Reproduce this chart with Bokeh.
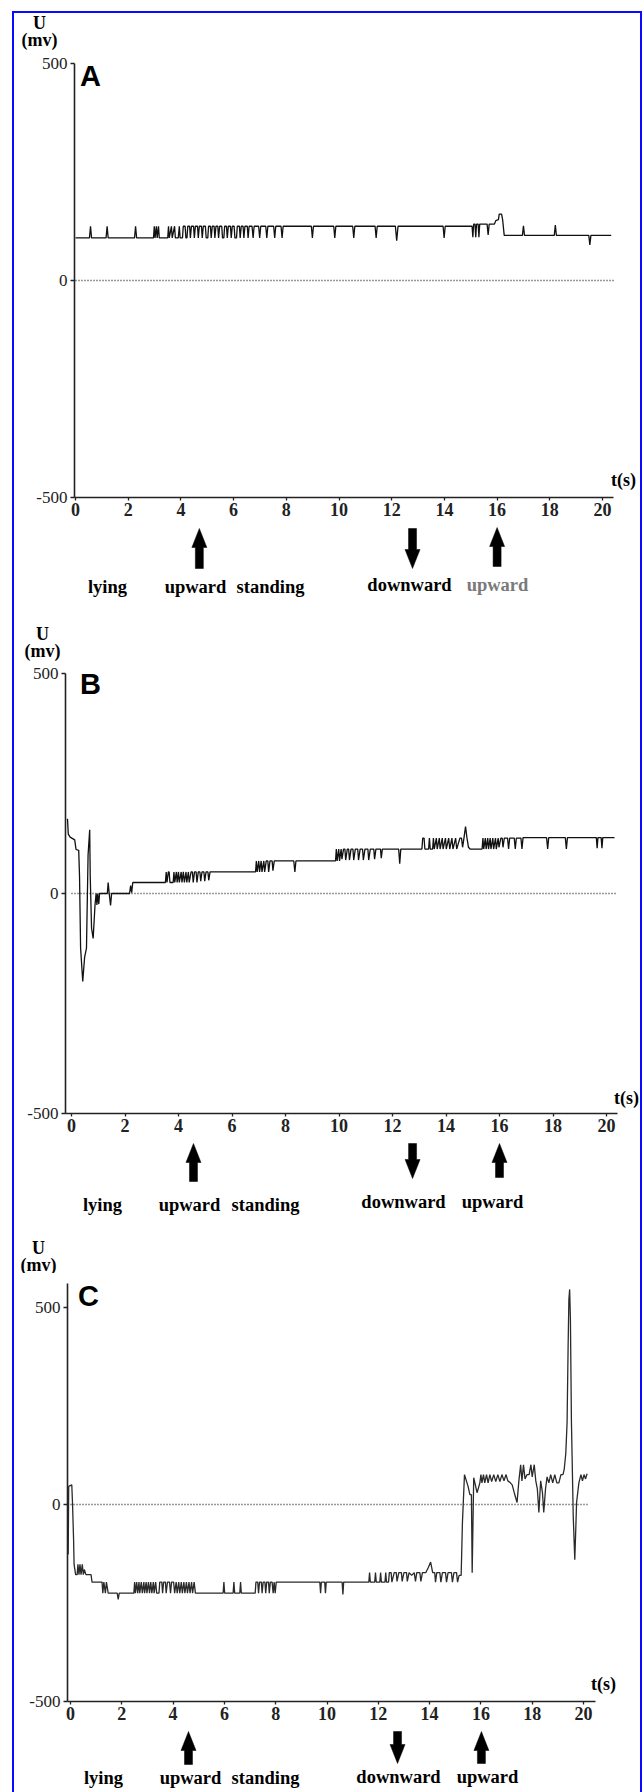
from bokeh.plotting import figure
from bokeh.layouts import column
from bokeh.models import Range1d, FixedTicker, Label
from bokeh.embed import file_html
from bokeh.resources import INLINE

# ---------------- data ----------------
x_ticks = [0, 2, 4, 6, 8, 10, 12, 14, 16, 18, 20]
y_ticks = [-500, 0, 500]
y_tick_text = {-500: "-500", 0: "0", 500: "500"}

A_t = [0.00, 0.53, 0.57, 0.61, 1.16, 1.20, 1.24, 2.24, 2.28, 2.32,
       2.96, 2.99, 3.02, 3.07, 3.10, 3.15, 3.18,
       3.50, 3.53, 3.56, 3.64, 3.67, 3.76, 3.79, 3.90,
       3.94, 3.97, 4.06, 4.09, 4.16, 4.19, 4.23, 4.26, 4.33, 4.36, 4.40, 4.48, 4.51,
       4.55, 4.63, 4.66, 4.70, 4.78, 4.81, 4.85, 4.93, 4.96, 5.02, 5.05, 5.12, 5.15,
       5.19, 5.26, 5.29, 5.33, 5.40, 5.43, 5.47, 5.55, 5.58, 5.63, 5.66, 5.73, 5.76,
       5.80, 5.88, 5.91, 5.95, 6.02, 6.05, 6.11, 6.14, 6.22, 6.25, 6.29, 6.36, 6.39,
       6.43, 6.52, 6.55, 6.59, 6.70, 6.74, 6.78, 6.95, 6.99, 7.03, 7.22, 7.26, 7.30,
       7.52, 7.56, 7.60, 7.80, 7.84, 7.88,
       8.95, 8.99, 9.03, 9.80, 9.84, 9.88, 10.52, 10.56, 10.60, 11.37, 11.41, 11.45,
       12.14, 12.19, 12.24, 13.95, 13.99, 14.03,
       15.05, 15.08, 15.11, 15.16, 15.19, 15.22, 15.28, 15.31, 15.34, 15.62, 15.66, 15.70,
       15.90, 15.95, 16.05, 16.08, 16.17, 16.21, 16.27,
       16.96, 17.00, 17.04, 18.17, 18.21, 18.25, 19.48, 19.52, 19.56, 20.33]
A_u = [98, 98, 125, 98, 98, 125, 98, 98, 125, 98,
       98, 125, 98, 125, 98, 125, 98,
       98, 125, 98, 125, 98, 125, 98, 98,
       125, 98, 98, 125, 125, 98, 98, 125, 125, 98, 125, 125, 98,
       125, 125, 98, 125, 125, 98, 125, 125, 98, 98, 125, 125, 98,
       125, 125, 98, 125, 125, 98, 125, 125, 98, 98, 125, 125, 98,
       125, 125, 98, 125, 125, 98, 98, 125, 125, 98, 125, 125, 98,
       125, 125, 98, 125, 125, 98, 125, 125, 98, 125, 125, 98, 125,
       125, 98, 125, 125, 98, 125,
       125, 98, 125, 125, 98, 125, 125, 98, 125, 125, 98, 125,
       125, 92, 125, 125, 98, 125,
       125, 100, 130, 130, 100, 130, 130, 100, 130, 130, 105, 130,
       130, 138, 140, 153, 153, 140, 104,
       104, 126, 104, 104, 128, 104, 104, 82, 104, 104]

B_t = [-0.15, -0.12, -0.05, 0.12, 0.17, 0.27, 0.30, 0.34, 0.42, 0.49, 0.56, 0.62, 0.68,
       0.70, 0.75, 0.81, 0.88, 0.92, 0.95, 0.98, 1.02, 1.05, 1.08, 1.34, 1.37, 1.41,
       1.46, 1.50, 2.17, 2.21, 2.25, 2.29, 2.33,
       3.51, 3.54, 3.57, 3.62, 3.65, 3.68, 3.80, 3.83, 3.86, 3.92, 3.95, 4.00, 4.03,
       4.10, 4.13, 4.18, 4.22, 4.28, 4.31, 4.37, 4.40, 4.47, 4.52, 4.55, 4.60, 4.66,
       4.69, 4.74, 4.80, 4.83, 4.88, 4.95, 4.98, 5.03, 5.10, 5.13, 5.18,
       6.88, 6.91, 6.94, 7.00, 7.03, 7.09, 7.12, 7.19, 7.22, 7.28, 7.34, 7.37, 7.42,
       7.50, 7.53, 7.58, 7.66, 8.31, 8.35, 8.39,
       9.87, 9.90, 9.93, 9.99, 10.02, 10.08, 10.11, 10.17, 10.22, 10.25, 10.31, 10.36,
       10.39, 10.45, 10.52, 10.55, 10.61, 10.70, 10.73, 10.79, 10.88, 10.91, 10.97,
       11.08, 11.11, 11.17, 11.30, 11.33, 11.38, 11.55, 11.58, 11.62, 12.23, 12.27, 12.31,
       13.10, 13.13, 13.18, 13.21, 13.35, 13.38, 13.41, 13.50, 13.53, 13.56, 13.64,
       13.67, 13.75, 13.78, 13.86, 13.89, 13.98, 14.01, 14.10, 14.14, 14.22, 14.26,
       14.36, 14.40, 14.52, 14.58, 14.62, 14.68, 14.73, 14.78, 14.84, 14.90,
       15.35, 15.38, 15.41, 15.47, 15.50, 15.56, 15.59, 15.65, 15.68, 15.75, 15.78,
       15.85, 15.88, 15.95, 15.98, 16.05, 16.10, 16.13, 16.18, 16.30, 16.34, 16.38,
       16.55, 16.59, 16.63, 16.80, 16.84, 16.88, 17.76, 17.80, 17.84, 18.46, 18.50,
       18.54, 19.62, 19.65, 19.68, 19.80, 19.83, 19.86, 20.30]
B_u = [170, 135, 128, 122, 100, 98, 40, -124, -200, -145, -124, 88, 145,
       40, -79, -102, -25, 0, -26, 0, -24, 0, 0, 0, 25, 0,
       -27, 0, 0, 18, 2, 25, 25,
       25, 49, 25, 49, 49, 25, 25, 49, 25, 49, 25, 49, 25,
       49, 25, 49, 25, 49, 25, 49, 25, 49, 49, 25, 49, 49,
       25, 49, 49, 28, 49, 49, 28, 49, 49, 30, 49,
       49, 74, 49, 74, 49, 74, 49, 74, 49, 74, 74, 49, 74,
       74, 52, 74, 74, 74, 49, 74,
       74, 101, 74, 101, 74, 101, 78, 101, 101, 76, 101, 101,
       76, 101, 101, 76, 101, 101, 76, 101, 101, 76, 101,
       101, 76, 101, 101, 78, 101, 101, 80, 101, 101, 68, 101,
       101, 126, 126, 101, 101, 126, 101, 101, 126, 101, 126,
       101, 126, 101, 126, 101, 126, 101, 126, 101, 126, 101,
       126, 101, 126, 126, 105, 130, 152, 128, 105, 101,
       101, 126, 101, 126, 101, 126, 101, 126, 101, 126, 101,
       126, 101, 126, 105, 126, 126, 105, 126, 126, 101, 126,
       126, 101, 126, 126, 101, 127, 127, 101, 127, 127, 101,
       127, 127, 103, 127, 127, 103, 127, 127]

C_t = [-0.09, -0.07, 0.05, 0.08, 0.12, 0.14, 0.20, 0.26, 0.29, 0.33, 0.37, 0.41, 0.46,
       0.50, 0.54, 0.60, 0.80, 0.84, 1.23, 1.26, 1.30, 1.36, 1.40, 1.47, 1.82, 1.86,
       1.90, 2.47,
       2.50, 2.53, 2.58, 2.62, 2.67, 2.70, 2.76, 2.80, 2.86, 2.89, 2.95, 2.98, 3.04,
       3.08, 3.13, 3.17, 3.23, 3.26, 3.32, 3.36, 3.45, 3.48, 3.56, 3.59, 3.63, 3.70,
       3.73, 3.78, 3.86, 3.90, 3.94, 4.02, 4.06, 4.12, 4.16, 4.22, 4.26, 4.32, 4.36,
       4.42, 4.46, 4.52, 4.56, 4.62, 4.66, 4.72, 4.76, 4.82, 4.87,
       5.95, 5.98, 6.01, 6.34, 6.37, 6.40, 6.60, 6.63, 6.66,
       7.20, 7.23, 7.30, 7.33, 7.37, 7.44, 7.47, 7.51, 7.58, 7.61, 7.65, 7.72, 7.75,
       7.79, 7.86, 7.90, 7.94, 7.98, 8.02,
       9.72, 9.75, 9.78, 9.91, 9.94, 9.97, 10.59, 10.62, 10.65,
       11.63, 11.66, 11.69, 11.86, 11.89, 11.92, 12.06, 12.09, 12.12, 12.26, 12.29,
       12.32, 12.40, 12.43, 12.50, 12.53, 12.62, 12.70, 12.73, 12.80, 12.90, 12.93,
       13.00, 13.10, 13.13, 13.20, 13.30, 13.40, 13.45, 13.50, 13.62, 13.66, 13.72,
       13.85, 13.95, 14.04, 14.12, 14.20, 14.23, 14.28, 14.40, 14.44, 14.50, 14.62,
       14.66, 14.72, 14.85, 14.89, 14.95, 15.05, 15.09, 15.15, 15.23,
       15.28, 15.36, 15.50, 15.57, 15.63, 15.66, 15.72, 15.80, 15.85, 15.96, 16.00,
       16.04, 16.10, 16.15, 16.22, 16.28, 16.35, 16.42, 16.50, 16.58, 16.66, 16.74,
       16.82, 16.90, 16.98, 17.05, 17.15, 17.22, 17.30, 17.41, 17.48, 17.55, 17.60,
       17.66, 17.72, 17.80, 17.88, 17.95, 18.00, 18.08, 18.14, 18.20, 18.26, 18.33,
       18.40, 18.45, 18.52, 18.58, 18.65, 18.72, 18.80, 18.88, 18.96, 19.04, 19.12,
       19.20, 19.25, 19.31, 19.36, 19.40, 19.43, 19.46, 19.49, 19.53, 19.60, 19.66,
       19.70, 19.73, 19.82, 19.90, 19.96, 20.02, 20.08, 20.14]
C_u = [-127, 46, 50, 0, -89, -152, -178, -178, -152, -178, -152, -178, -152,
       -178, -165, -178, -178, -197, -197, -225, -197, -225, -197, -225, -225, -241,
       -225, -225,
       -197, -225, -197, -225, -197, -225, -197, -225, -197, -225, -197, -225, -197,
       -225, -197, -225, -197, -225, -197, -225, -225, -197, -197, -225, -197, -197,
       -225, -197, -197, -225, -197, -197, -225, -197, -225, -197, -225, -197, -225,
       -197, -225, -197, -225, -197, -225, -197, -225, -197, -225,
       -225, -197, -225, -225, -197, -225, -225, -197, -225,
       -225, -197, -197, -225, -197, -197, -225, -197, -197, -225, -197, -197, -225,
       -197, -197, -225, -197, -225, -197,
       -197, -225, -197, -197, -225, -197, -197, -228, -197,
       -197, -173, -197, -197, -173, -197, -197, -173, -197, -197, -173,
       -197, -197, -173, -173, -197, -173, -173, -195, -173, -173, -195,
       -173, -173, -195, -173, -180, -173, -195, -173, -173, -195, -173,
       -173, -160, -146, -173, -173, -197, -173, -173, -197, -173, -173,
       -197, -173, -173, -197, -173, -173, -197, -180, -180,
       -46, 76, 46, 25, 25, -173, 68, 45, 30, 55, 76,
       55, 76, 55, 76, 55, 76, 58, 76, 58, 76, 58,
       76, 60, 76, 60, 55, 50, 30, 5, 60, 101, 60,
       101, 65, 76, 76, 101, 70, 101, 60, 40, -20, 60,
       30, -20, 40, 70, 55, 76, 55, 76, 55, 55, 76,
       76, 90, 130, 208, 400, 520, 546, 470, 208, -30, -140,
       -60, 5, 55, 76, 60, 76, 65, 78]

# event markers (arrows) and posture labels
arrow_t = {"A": [4.70, 12.79, 16.00], "B": [4.56, 12.75, 16.00], "C": [4.60, 12.75, 16.02]}
arrow_dirs = ["up", "down", "up"]
state_labels = ["lying", "upward", "standing", "downward", "upward"]
axis_end_t = {"A": 20.42, "B": 20.41, "C": 20.47}
zero_end_t = {"A": 20.42, "B": 20.37, "C": 20.23}

# ---------------- layout (page pixels) ----------------
SERIF = "Liberation Serif"
SANS = "Liberation Sans"
W = 626
X0 = 14           # left edge of content on the page
X1 = X0 + W
LBL_SIZE = "18.5px"

panels = {
    "A": dict(t=A_t, u=A_u, color="#111111", t0=75, pps=26.35, ylo=-500, yhi=500,
              fig_top=53, f_top=63, f_bot=497, fig_bot=525, f_left=74,
              letter=(90, 75), ts=(623, 479)),
    "B": dict(t=B_t, u=B_u, color="#111111", t0=71, pps=26.75, ylo=-500, yhi=500,
              fig_top=663, f_top=673, f_bot=1113, fig_bot=1141, f_left=65,
              letter=(90, 683), ts=(626, 1097)),
    "C": dict(t=C_t, u=C_u, color="#2a2a2a", t0=70, pps=25.65, ylo=-500, yhi=561,
              fig_top=1273, f_top=1283, f_bot=1701, fig_bot=1729, f_left=67,
              letter=(88, 1295), ts=(603, 1683)),
}

strips = [
    dict(top=13, bot=53, key="A", U=[(39, 22), (39, 39)], arrows=None, labels=None),
    dict(top=525, bot=663, key="A", U=[(42, 633), (42, 650)],
         arrows=[(568, 528), (528, 568), (566, 527)],
         labels=[(107, 586), (195, 586), (270, 586), (409, 584), (497, 584)],
         colors=["black", "black", "black", "black", "#7a7a7a"]),
    dict(top=1141, bot=1273, key="B", U=[(38, 1247), (38, 1264)],
         arrows=[(1181, 1143), (1143, 1178), (1177, 1143)],
         labels=[(102, 1204), (189, 1204), (265, 1204), (403, 1201), (492, 1201)],
         colors=["black"] * 5),
    dict(top=1729, bot=1792, key="C", U=[],
         arrows=[(1764, 1731), (1731, 1763), (1763, 1731)],
         labels=[(103, 1777), (190, 1777), (265, 1777), (398, 1776), (487, 1776)],
         colors=["black"] * 5),
]


def t_of(P, px):
    return (px - P["t0"]) / P["pps"]


def u_of(P, py):
    return P["ylo"] + (P["f_bot"] - py) * (P["yhi"] - P["ylo"]) / (P["f_bot"] - P["f_top"])


def main_fig(key):
    P = panels[key]
    p = figure(width=W, height=P["fig_bot"] - P["fig_top"], output_backend="svg",
               toolbar_location=None, title=None,
               x_range=Range1d(t_of(P, P["f_left"]), t_of(P, X1)),
               y_range=Range1d(P["ylo"], P["yhi"]),
               min_border_left=P["f_left"] - X0, min_border_right=0,
               min_border_top=P["f_top"] - P["fig_top"],
               min_border_bottom=P["fig_bot"] - P["f_bot"])
    p.frame_align = False
    p.xgrid.visible = False
    p.ygrid.visible = False
    p.outline_line_color = None
    for ax in (p.xaxis[0], p.yaxis[0]):
        ax.axis_line_color = "#222222"
        ax.axis_line_width = 1.6
        ax.major_tick_line_color = "#222222"
        ax.major_tick_line_width = 1.3
        ax.minor_tick_line_color = None
        ax.major_tick_in = 0
        ax.major_label_text_font = SERIF
        ax.major_label_text_color = "#222222"
    p.xaxis.ticker = FixedTicker(ticks=x_ticks)
    p.xaxis.bounds = (t_of(P, P["f_left"]), axis_end_t[key])
    p.xaxis.major_tick_out = 3
    p.xaxis.major_label_text_font_size = "18px"
    p.xaxis.major_label_text_font_style = "bold"
    p.xaxis.major_label_standoff = 2
    p.yaxis.ticker = FixedTicker(ticks=y_ticks)
    p.yaxis.major_label_overrides = y_tick_text
    p.yaxis.major_tick_out = 4
    p.yaxis.major_label_text_font_size = "17px"
    p.yaxis.major_label_standoff = 3

    # dotted zero line
    p.line([0, zero_end_t[key]], [0, 0], line_color="#333333", line_width=1.6, line_dash="1 2")
    # recorded trace
    p.line(P["t"], P["u"], line_color=P["color"], line_width=1.3)

    lx, ly = P["letter"]
    p.add_layout(Label(x=t_of(P, lx), y=u_of(P, ly), text=key, text_font=SANS,
                       text_font_size="29px", text_font_style="bold", text_color="black",
                       text_align="center", text_baseline="middle"))
    sx, sy = P["ts"]
    p.add_layout(Label(x=t_of(P, sx), y=u_of(P, sy), text="t(s)", text_font=SERIF,
                       text_font_size="18px", text_font_style="bold", text_color="black",
                       text_align="center", text_baseline="middle"))
    return p


def strip_fig(S):
    P = panels[S["key"]]
    p = figure(width=W, height=S["bot"] - S["top"], output_backend="svg",
               toolbar_location=None, title=None,
               x_range=Range1d(t_of(P, X0), t_of(P, X1)),
               y_range=Range1d(S["bot"], S["top"]),
               x_axis_type=None, y_axis_type=None,
               min_border_left=0, min_border_right=0, min_border_top=0, min_border_bottom=0)
    p.frame_align = False
    p.xgrid.visible = False
    p.ygrid.visible = False
    p.outline_line_color = None

    for txt, (px, py) in zip(["U", "(mv)"], S["U"]):
        p.add_layout(Label(x=t_of(P, px), y=py, text=txt, text_font=SERIF,
                           text_font_size="18px", text_font_style="bold", text_color="black",
                           text_align="center", text_baseline="middle"))
    if S["arrows"]:
        xs, ys = [], []
        for t, d, (y_start, y_tip) in zip(arrow_t[S["key"]], arrow_dirs, S["arrows"]):
            cx = P["t0"] + t * P["pps"]
            sgn = 1 if d == "up" else -1      # +1: tip above start
            hb = y_tip + sgn * 19             # base of head
            pts = [(cx - 4, y_start), (cx - 4, hb), (cx - 7.5, hb), (cx, y_tip),
                   (cx + 7.5, hb), (cx + 4, hb), (cx + 4, y_start)]
            xs.append([t_of(P, a) for a, _ in pts])
            ys.append([b for _, b in pts])
        p.patches(xs, ys, fill_color="black", line_color="black", line_width=0.5)
        for txt, (px, py), col in zip(state_labels, S["labels"], S["colors"]):
            p.add_layout(Label(x=t_of(P, px), y=py, text=txt, text_font=SERIF,
                               text_font_size=LBL_SIZE, text_font_style="bold",
                               text_color=col, text_align="center", text_baseline="middle"))
    return p


figs = [strip_fig(strips[0]), main_fig("A"), strip_fig(strips[1]), main_fig("B"),
        strip_fig(strips[2]), main_fig("C"), strip_fig(strips[3])]

layout = column(*figs, styles={"border-left": "2px solid #0a0aff",
                               "border-right": "2px solid #0a0aff",
                               "border-top": "2px solid #0a0aff",
                               "margin-left": "12px", "margin-top": "11px"})
open("out.html", "w").write(file_html(layout, INLINE))
